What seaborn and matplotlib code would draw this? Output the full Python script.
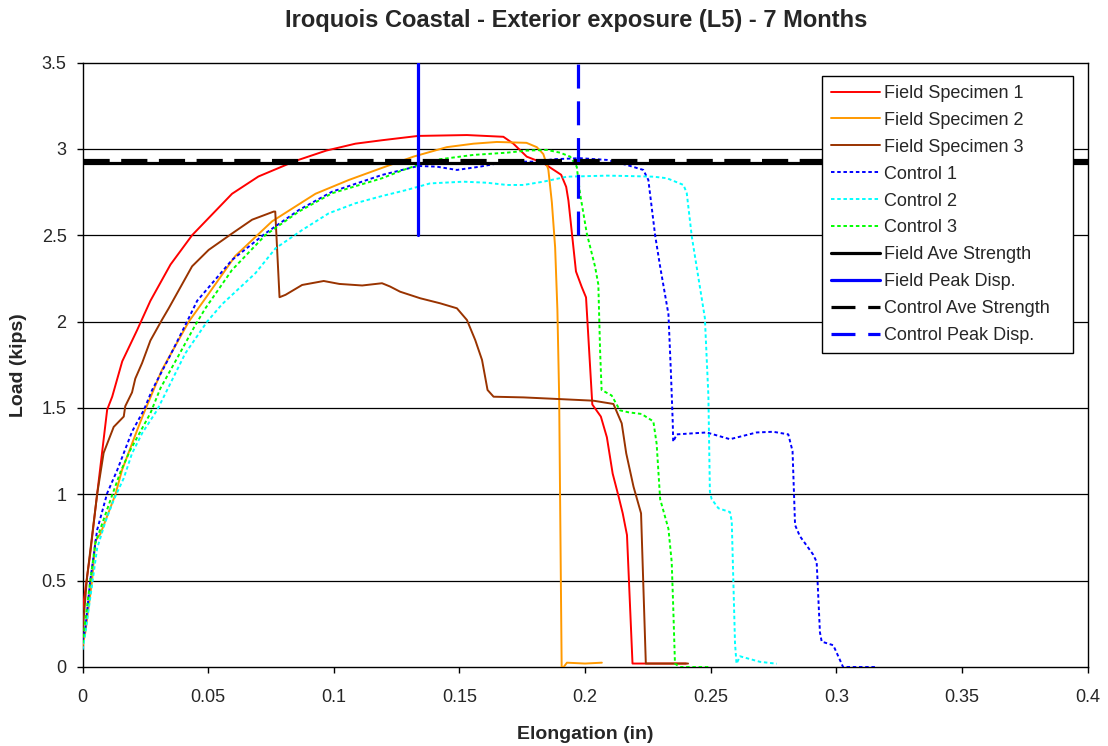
import matplotlib
matplotlib.use("Agg")
import matplotlib.pyplot as plt
import seaborn as sns
from matplotlib.ticker import MultipleLocator, FormatStrFormatter
from matplotlib.lines import Line2D

# ---- data (elongation in inches, load in kips) ----
fs1_x = [0, 0.003, 0.0058, 0.0098, 0.0118, 0.0158, 0.0217, 0.027, 0.035, 0.0436,
         0.0595, 0.07, 0.0847, 0.097, 0.1086, 0.1192, 0.1336, 0.153, 0.1675, 0.1715,
         0.1768, 0.1835, 0.1905, 0.1925, 0.1934, 0.1964, 0.1987, 0.2004, 0.2029,
         0.2063, 0.2087, 0.211, 0.2134, 0.215, 0.2167, 0.2189, 0.2402]
fs1_y = [0.33, 0.65, 1.0, 1.49, 1.565, 1.77, 1.95, 2.12, 2.33, 2.50,
         2.74, 2.84, 2.93, 2.99, 3.03, 3.05, 3.075, 3.08, 3.07, 3.03,
         2.955, 2.917, 2.85, 2.78, 2.70, 2.29, 2.20, 2.14, 1.52,
         1.45, 1.33, 1.12, 0.985, 0.89, 0.764, 0.02, 0.02]

fs2_x = [0, 0.0011, 0.0038, 0.0051, 0.0071, 0.0131, 0.0157, 0.0217, 0.0244, 0.0316,
         0.0423, 0.0482, 0.0608, 0.0754, 0.0927, 0.106, 0.1192, 0.1317, 0.145, 0.1556,
         0.1649, 0.1767, 0.1808, 0.1834, 0.1854, 0.1868, 0.1881, 0.189, 0.1897, 0.1907,
         0.1915, 0.1928, 0.2, 0.2067]
fs2_y = [0.12, 0.2, 0.5, 0.73, 0.77, 1.0, 1.14, 1.37, 1.47, 1.72,
         2.0, 2.12, 2.38, 2.58, 2.74, 2.82, 2.89, 2.955, 3.01, 3.03,
         3.04, 3.035, 3.01, 2.97, 2.88, 2.69, 2.43, 2.07, 1.57, 0.0,
         0.0, 0.025, 0.02, 0.025]

fs3_x = [0, 0.0018, 0.0058, 0.0084, 0.0124, 0.0164, 0.017, 0.0197, 0.021, 0.0237,
         0.027, 0.0316, 0.0343, 0.0436, 0.0502, 0.0595, 0.0675, 0.0761, 0.0767, 0.0784,
         0.0808, 0.0874, 0.096, 0.1022, 0.1113, 0.1192, 0.1224, 0.1264, 0.1344, 0.1423,
         0.149, 0.153, 0.1563, 0.159, 0.1612, 0.1636, 0.1755, 0.1888, 0.2033, 0.2113,
         0.2146, 0.2164, 0.2193, 0.2223, 0.2242, 0.241]
fs3_y = [0.2, 0.52, 1.0, 1.24, 1.39, 1.45, 1.51, 1.59, 1.67, 1.76,
         1.89, 2.01, 2.077, 2.32, 2.415, 2.51, 2.59, 2.637, 2.637, 2.141,
         2.155, 2.212, 2.235, 2.218, 2.209, 2.222, 2.203, 2.173, 2.135, 2.106,
         2.077, 2.009, 1.893, 1.778, 1.604, 1.565, 1.561, 1.552, 1.542, 1.523,
         1.411, 1.237, 1.044, 0.89, 0.02, 0.02]

c1_x = [0, 0.0011, 0.0031, 0.0058, 0.0098, 0.0138, 0.0197, 0.0244, 0.0277, 0.0343,
        0.0416, 0.0456, 0.0595, 0.0728, 0.0861, 0.0993, 0.1192, 0.1336, 0.141, 0.149,
        0.1582, 0.1689, 0.1808, 0.1874, 0.198, 0.2087, 0.2166, 0.2232, 0.2252, 0.2279,
        0.2299, 0.2332, 0.2342, 0.2349, 0.2351, 0.2365, 0.2484, 0.2577, 0.2683, 0.2749,
        0.2809, 0.2826, 0.2836, 0.2855, 0.2908, 0.2922, 0.2935, 0.2942, 0.2988, 0.3008,
        0.3027, 0.3159]
c1_y = [0.15, 0.224, 0.504, 0.793, 1.006, 1.14, 1.363, 1.488, 1.604, 1.787,
        2.0, 2.12, 2.357, 2.511, 2.646, 2.752, 2.849, 2.901, 2.897, 2.878,
        2.897, 2.926, 2.926, 2.94, 2.946, 2.936, 2.907, 2.878, 2.82, 2.50,
        2.318, 2.043, 1.70, 1.422, 1.304, 1.347, 1.358, 1.319, 1.358, 1.362,
        1.347, 1.25, 0.822, 0.758, 0.651, 0.608, 0.201, 0.147, 0.126, 0.062,
        0.0, 0.0]

c2_x = [0, 0.0011, 0.0058, 0.0091, 0.0124, 0.0164, 0.0197, 0.0237, 0.0297, 0.035,
        0.0409, 0.0496, 0.0555, 0.0688, 0.0768, 0.0874, 0.098, 0.1086, 0.1192, 0.129,
        0.1383, 0.1516, 0.1609, 0.1689, 0.1755, 0.1834, 0.1928, 0.2087, 0.2166, 0.2272,
        0.2326, 0.2392, 0.2405, 0.2425, 0.2477, 0.2491, 0.2497, 0.2504, 0.2531, 0.2577,
        0.2584, 0.2597, 0.2603, 0.2617, 0.2696, 0.2763]
c2_y = [0.1, 0.195, 0.687, 0.841, 0.967, 1.093, 1.237, 1.353, 1.488, 1.643,
        1.816, 2.0, 2.10, 2.28, 2.424, 2.53, 2.627, 2.685, 2.727, 2.762,
        2.80, 2.81, 2.804, 2.791, 2.791, 2.81, 2.839, 2.845, 2.843, 2.839,
        2.83, 2.791, 2.743, 2.492, 2.021, 1.572, 1.015, 0.972, 0.919, 0.897,
        0.844, 0.137, 0.019, 0.062, 0.03, 0.019]

c3_x = [0, 0.0031, 0.0051, 0.0111, 0.0151, 0.019, 0.023, 0.027, 0.031, 0.0376,
        0.0449, 0.0489, 0.0595, 0.0728, 0.0861, 0.0993, 0.1192, 0.1277, 0.1336, 0.1423,
        0.1556, 0.1689, 0.1768, 0.1848, 0.1901, 0.1941, 0.1967, 0.198, 0.2007, 0.204,
        0.2053, 0.206, 0.2066, 0.2106, 0.2139, 0.2172, 0.2225, 0.2272, 0.2285, 0.2299,
        0.2332, 0.2345, 0.2351, 0.2358, 0.2378, 0.2491]
c3_y = [0.137, 0.504, 0.716, 0.967, 1.13, 1.256, 1.363, 1.469, 1.614, 1.787,
        1.98, 2.077, 2.299, 2.501, 2.637, 2.743, 2.83, 2.878, 2.907, 2.94,
        2.965, 2.978, 2.99, 2.994, 2.978, 2.955, 2.897, 2.743, 2.511, 2.318,
        2.214, 1.829, 1.604, 1.572, 1.486, 1.475, 1.465, 1.422, 1.293, 0.972,
        0.80, 0.608, 0.351, 0.019, 0.0, 0.0]

field_ave_strength = 2.92
control_ave_strength = 2.935
field_peak_x = [0.1337, 0.1337]
field_peak_y = [2.5, 3.5]
control_peak_x = [0.1973, 0.1973]
control_peak_y = [2.5, 3.5]

# line styles (dash lengths are in units of line width)
thin = 1.4
thick = 2.3
dotted = (0, (1.8, 1.4))
long_dash = (0, (7.5, 4.0))
series = [
    ("Field Specimen 1", fs1_x, fs1_y, "#FF0000", "-"),
    ("Field Specimen 2", fs2_x, fs2_y, "#FF9900", "-"),
    ("Field Specimen 3", fs3_x, fs3_y, "#993300", "-"),
    ("Control 1", c1_x, c1_y, "#0000FF", dotted),
    ("Control 2", c2_x, c2_y, "#00FFFF", dotted),
    ("Control 3", c3_x, c3_y, "#00FF00", dotted),
]

sns.set_style("white")
plt.rcParams["font.family"] = ["Liberation Sans", "DejaVu Sans"]

fig = plt.figure(figsize=(11.08, 7.46), dpi=100)
ax = fig.add_axes([0.0745, 0.1059, 0.9070, 0.8103])

for y in [0.5, 1, 1.5, 2, 2.5, 3]:
    ax.axhline(y, color="black", lw=0.9, zorder=1)

for name, xs, ys, col, ls in series:
    sns.lineplot(x=xs, y=ys, ax=ax, sort=False, estimator=None, color=col,
                 linestyle=ls, lw=thin, zorder=3)

ax.axhline(field_ave_strength, color="black", lw=thick, zorder=4)
ax.axhline(control_ave_strength, color="black", lw=thick,
           linestyle=(0, (8.2, 3.6)), zorder=4)
sns.lineplot(x=field_peak_x, y=field_peak_y, ax=ax, sort=False, estimator=None,
             color="#0000FF", lw=thick, zorder=5)
sns.lineplot(x=control_peak_x, y=control_peak_y, ax=ax, sort=False, estimator=None,
             color="#0000FF", lw=thick, linestyle=long_dash, zorder=5)

ax.set_xlim(0, 0.4)
ax.set_ylim(0, 3.5)
ax.xaxis.set_major_locator(MultipleLocator(0.05))
ax.yaxis.set_major_locator(MultipleLocator(0.5))
ax.xaxis.set_major_formatter(FormatStrFormatter("%g"))
ax.yaxis.set_major_formatter(FormatStrFormatter("%g"))
ax.tick_params(axis="both", labelsize=13, bottom=True, left=True,
               direction="out", length=4.5, width=1, color="black")
ax.tick_params(axis="x", pad=11)
ax.tick_params(axis="y", pad=7)
for sp in ax.spines.values():
    sp.set_color("black")
    sp.set_linewidth(1)

fig.text(0.52, 0.972, "Iroquois Coastal - Exterior exposure (L5) - 7 Months",
         fontsize=17, fontweight="bold", ha="center", va="center")
ax.set_xlabel("Elongation (in)", fontsize=14, fontweight="bold")
ax.set_ylabel("Load (kips)", fontsize=14, fontweight="bold")
ax.xaxis.set_label_coords(0.5, -0.097)
ax.yaxis.set_label_coords(-0.055, 0.5)

handles = [Line2D([], [], color=c, lw=thin, linestyle=ls) for _, _, _, c, ls in series]
handles += [
    Line2D([], [], color="black", lw=thick),
    Line2D([], [], color="#0000FF", lw=thick),
    Line2D([], [], color="black", lw=thick, linestyle=long_dash),
    Line2D([], [], color="#0000FF", lw=thick, linestyle=long_dash),
]
labels = [s[0] for s in series] + ["Field Ave Strength", "Field Peak Disp.",
                                    "Control Ave Strength", "Control Peak Disp."]
leg = ax.legend(handles, labels, loc="upper left",
                bbox_to_anchor=(0.7358, 0.5, 0.2498, 0.478), mode="expand",
                fontsize=13, frameon=True, fancybox=False, framealpha=1,
                edgecolor="black", handlelength=2.7, handletextpad=0.25,
                labelspacing=0.55, borderpad=0.5, borderaxespad=0)
leg.get_frame().set_linewidth(1)
leg.set_zorder(10)

fig.savefig("out.png", dpi=100)
